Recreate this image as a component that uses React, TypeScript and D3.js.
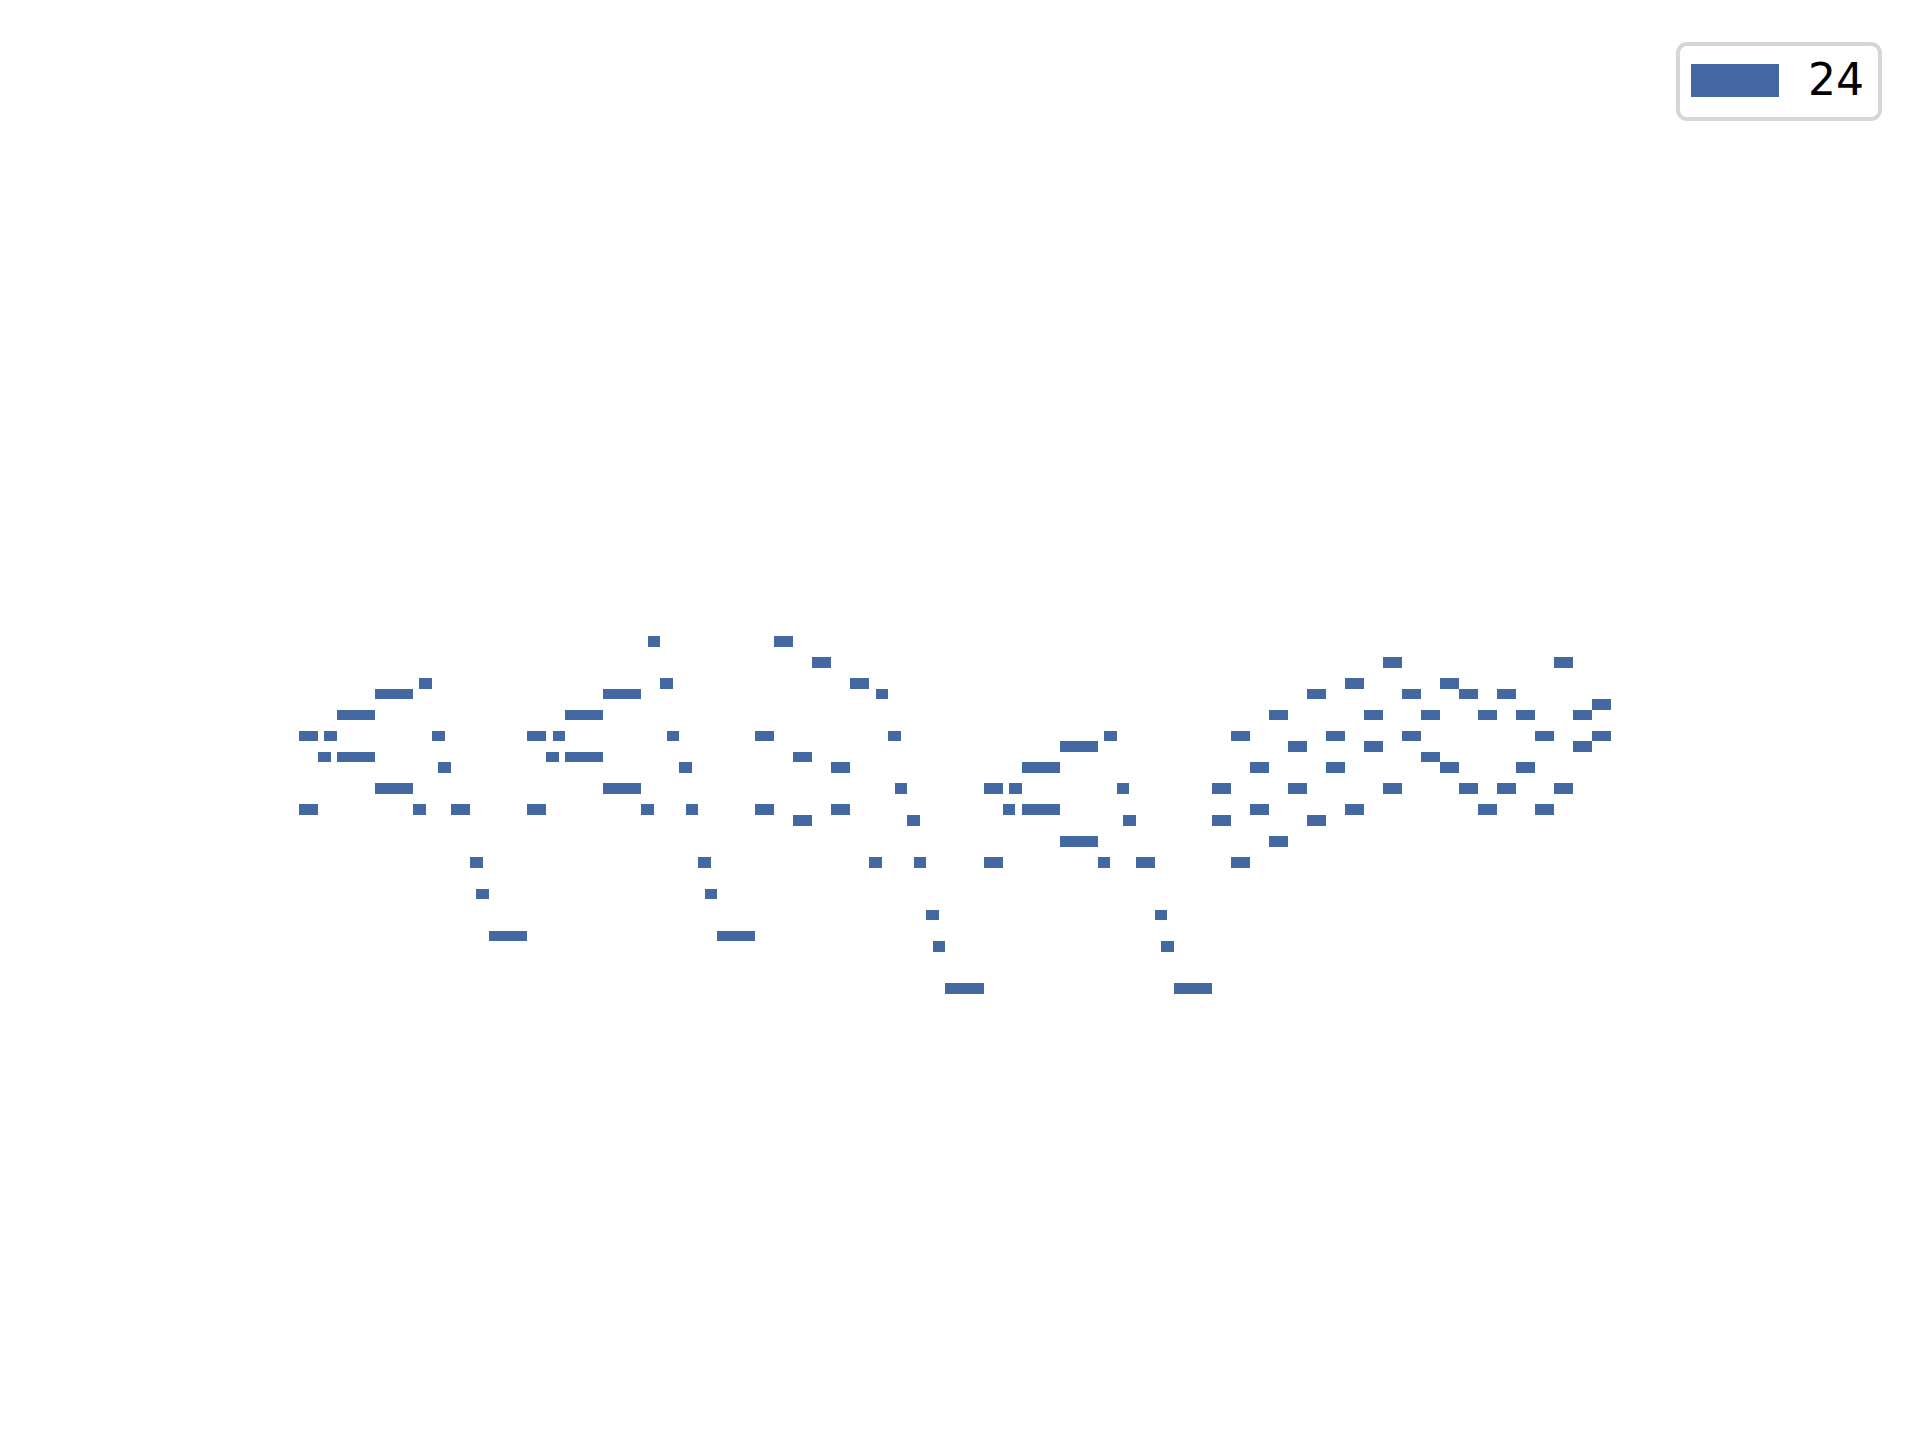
import * as d3 from "d3";
import { useEffect, useRef } from "react";

// notes are [start step, length in steps, midi pitch]
const phraseOne: [number, number, number][] = [
    [0, 3, 72], [0, 3, 65], [3, 2, 70], [4, 2, 72], [6, 6, 74], [6, 6, 70],
    [12, 6, 76], [12, 6, 67], [18, 2, 65], [19, 2, 77], [21, 2, 72], [22, 2, 69],
    [24, 3, 65], [27, 2, 60], [28, 2, 57], [30, 6, 53],
];

const phraseTwo: [number, number, number][] = [
    [36, 3, 72], [36, 3, 65], [39, 2, 70], [40, 2, 72], [42, 6, 74], [42, 6, 70],
    [48, 6, 76], [48, 6, 67], [54, 2, 65], [55, 2, 81], [57, 2, 77], [58, 2, 72],
    [60, 2, 69], [61, 2, 65], [63, 2, 60], [64, 2, 57], [66, 6, 53],
];

const phraseThree: [number, number, number][] = [
    [72, 3, 72], [72, 3, 65], [75, 3, 81], [78, 3, 70], [78, 3, 64], [81, 3, 79],
    [84, 3, 69], [84, 3, 65], [87, 3, 77], [90, 2, 60], [91, 2, 76], [93, 2, 72],
    [94, 2, 67], [96, 2, 64], [97, 2, 60], [99, 2, 55], [100, 2, 52], [102, 6, 48],
];

const phraseFour: [number, number, number][] = [
    [108, 3, 67], [108, 3, 60], [111, 2, 65], [112, 2, 67], [114, 6, 69], [114, 6, 65],
    [120, 6, 71], [120, 6, 62], [126, 2, 60], [127, 2, 72], [129, 2, 67], [130, 2, 64],
    [132, 3, 60], [135, 2, 55], [136, 2, 52], [138, 6, 48],
];

const phraseFive: [number, number, number][] = [
    [144, 3, 67], [144, 3, 64], [147, 3, 72], [147, 3, 60], [150, 3, 69], [150, 3, 65],
    [153, 3, 74], [153, 3, 62], [156, 3, 71], [156, 3, 67], [159, 3, 76], [159, 3, 64],
    [162, 3, 72], [162, 3, 69], [165, 3, 77], [165, 3, 65], [168, 3, 74], [168, 3, 71],
    [171, 3, 79], [171, 3, 67], [174, 3, 76], [174, 3, 72],
];

const phraseSix: [number, number, number][] = [
    [177, 3, 74], [177, 3, 70], [180, 3, 77], [180, 3, 69], [183, 3, 76], [183, 3, 67],
    [186, 3, 74], [186, 3, 65], [189, 3, 76], [189, 3, 67], [192, 3, 74], [192, 3, 69],
    [195, 3, 72], [195, 3, 65], [198, 3, 79], [198, 3, 67], [201, 3, 74], [201, 3, 71],
    [204, 3, 75], [204, 3, 72],
];

const legendLabels = ["24"];

const COLOR = "#4469a2";

const App = () => {
    const svgRef = useRef<SVGSVGElement | null>(null);
    const width = 1920;
    const height = 1440;

    useEffect(() => {
        const svg = d3.select(svgRef.current);
        svg.selectAll("*").remove();

        const notes = [...phraseOne, ...phraseTwo, ...phraseThree, ...phraseFour, ...phraseFive, ...phraseSix];

        // x in steps, y in pitch (a note fills pitch .. pitch+1)
        const xScale = d3.scaleLinear().domain([0, 207]).range([299, 1611]);
        const yScale = d3.scaleLinear().domain([48, 82]).range([994, 636]);

        svg
        .append("g")
        .selectAll("rect")
        .data(notes)
        .join("rect")
        .attr("x", (d) => xScale(d[0]))
        .attr("y", (d) => yScale(d[2] + 1))
        .attr("width", (d) => xScale(d[0] + d[1]) - xScale(d[0]))
        .attr("height", (d) => yScale(d[2]) - yScale(d[2] + 1))
        .attr("fill", COLOR)
        .attr("shape-rendering", "crispEdges");

        // legend
        const legend = svg.append("g").attr("transform", "translate(1678,44)");
        legend
        .append("rect")
        .attr("width", 202)
        .attr("height", 75)
        .attr("rx", 9)
        .attr("fill", "white")
        .attr("stroke", "#d6d6d6")
        .attr("stroke-width", 4);

        legendLabels.forEach((label, i) => {
            legend
            .append("rect")
            .attr("x", 13)
            .attr("y", 20 + i * 50)
            .attr("width", 88)
            .attr("height", 33)
            .attr("fill", COLOR);
            legend
            .append("text")
            .attr("x", 130)
            .attr("y", 51 + i * 50)
            .attr("font-family", "DejaVu Sans")
            .attr("font-size", 44)
            .attr("fill", "black")
            .text(label);
        });
    }, []);

    return (
        <svg
            ref={svgRef}
            width={width}
            height={height}
            style={{ position: "absolute", left: 0, top: 0, background: "white" }}
        ></svg>
    );
};

export default App;
